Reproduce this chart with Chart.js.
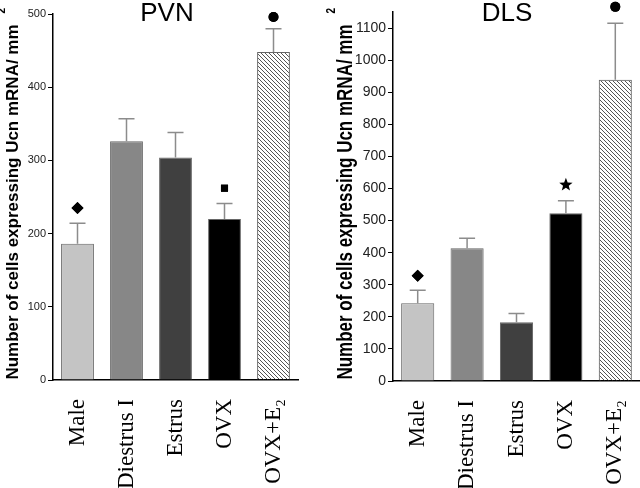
<!DOCTYPE html>
<html>
<head>
<meta charset="utf-8">
<script src="https://cdn.jsdelivr.net/npm/chart.js@4"></script>
<style>
  body { margin: 0; background: #fff; }
  .wrap { position: absolute; top: 0; width: 320px; height: 488px; }
</style>
</head>
<body>
<div class="wrap" style="left:0"><canvas id="pvn" width="320" height="488"></canvas></div>
<div class="wrap" style="left:320px"><canvas id="dls" width="320" height="488"></canvas></div>
<script>
const categories = ['Male', 'Diestrus I', 'Estrus', 'OVX', 'OVX+E\u2082'];

// PVN panel
const pvnMeans = [186, 326, 304, 220, 448];
const pvnErrTop = [214, 357, 338, 241, 480];
const pvnMarks = [235, null, null, 262, 496];
const pvnMarkStyles = ['rectRot', null, null, 'rect', 'circle'];

// DLS panel
const dlsMeans = [242, 414, 183, 523, 939];
const dlsErrTop = [283, 445, 210, 562, 1115];
const dlsMarks = [328, null, null, 613, 1166];
const dlsMarkStyles = ['rectRot', null, null, 'star', 'circle'];

const yTitle = 'Number of cells expressing Ucn mRNA/ mm';

function hatch() {
    const c = document.createElement('canvas');
    c.width = 4; c.height = 4;
    const g = c.getContext('2d');
    g.strokeStyle = '#555';
    g.lineWidth = 1;
    g.beginPath();
    g.moveTo(0, 0); g.lineTo(4, 4);
    g.moveTo(-1, 3); g.lineTo(1, 5);
    g.moveTo(3, -1); g.lineTo(5, 1);
    g.stroke();
    return g.createPattern(c, 'repeat');
}

function drawStar(ctx, x, y) {
    ctx.beginPath();
    for (let i = 0; i < 10; i++) {
        const r = i % 2 === 0 ? 7 : 3;
        const a = -Math.PI / 2 + i * Math.PI / 5;
        ctx.lineTo(x + r * Math.cos(a), y + 0.5 + r * Math.sin(a));
    }
    ctx.closePath();
    ctx.fill();
}

const barColors = ['#c4c4c4', '#878787', '#404040', '#000000', hatch()];
const markRadius = { rectRot: 6, rect: 5, circle: 5 };

// error bars (upper only), significance marks, rotated y title, panel title
const decorations = {
    id: 'decorations',
    afterDatasetsDraw(chart, args, opts) {
        const ctx = chart.ctx;
        const y = chart.scales.y;
        const meta = chart.getDatasetMeta(0);
        ctx.save();
        ctx.strokeStyle = '#8c8c8c';
        ctx.lineWidth = 1.5;
        meta.data.forEach((bar, i) => {
            const top = y.getPixelForValue(opts.errTop[i]);
            ctx.beginPath();
            ctx.moveTo(bar.x, bar.y);
            ctx.lineTo(bar.x, top);
            ctx.moveTo(bar.x - 8, top);
            ctx.lineTo(bar.x + 8, top);
            ctx.stroke();
        });
        ctx.fillStyle = '#000';
        meta.data.forEach((bar, i) => {
            const v = opts.marks[i];
            const style = opts.styles[i];
            if (v == null || !style) return;
            const py = y.getPixelForValue(v);
            if (style === 'star') {
                drawStar(ctx, bar.x, py);
            } else {
                Chart.helpers.drawPoint(ctx, {
                    pointStyle: style, radius: markRadius[style], borderWidth: 0, rotation: 0
                }, bar.x, py);
                ctx.fill();
            }
        });
        ctx.restore();
    },
    afterDraw(chart, args, opts) {
        const ctx = chart.ctx;
        ctx.save();
        ctx.fillStyle = '#000';
        ctx.font = '26px "Liberation Sans", Arial, sans-serif';
        ctx.textAlign = 'center';
        ctx.textBaseline = 'alphabetic';
        ctx.fillText(opts.title, opts.titleX, 21);

        ctx.translate(opts.yTitleX, 202);
        ctx.rotate(-Math.PI / 2);
        ctx.scale(1, opts.stretch);
        ctx.font = 'bold 17px "Liberation Sans", Arial, sans-serif';
        const w = ctx.measureText(yTitle).width;
        ctx.fillText(yTitle, 0, 0);
        ctx.font = 'bold 10px "Liberation Sans", Arial, sans-serif';
        ctx.textAlign = 'left';
        ctx.fillText('2', w / 2 + 11, -13);
        ctx.restore();
    }
};

function makeChart(id, o) {
    return new Chart(document.getElementById(id), {
        type: 'bar',
        data: {
            labels: categories,
            datasets: [{
                data: o.means,
                backgroundColor: barColors,
                borderColor: '#666',
                borderWidth: 1,
                barPercentage: 0.67,
                categoryPercentage: 1
            }]
        },
        options: {
            responsive: false,
            animation: false,
            layout: { padding: { top: o.padTop, right: o.padRight, left: 0, bottom: 0 } },
            plugins: {
                legend: { display: false },
                tooltip: { enabled: false },
                decorations: {
                    errTop: o.errTop, marks: o.marks, styles: o.styles,
                    title: o.title, titleX: o.titleX, yTitleX: o.yTitleX, stretch: o.stretch
                }
            },
            scales: {
                x: {
                    offset: true,
                    grid: { display: false },
                    border: { display: true, color: '#000', width: 1.5 },
                    ticks: {
                        autoSkip: false,
                        minRotation: 90,
                        maxRotation: 90,
                        padding: 11,
                        color: '#000',
                        font: { family: '"Liberation Serif", "Times New Roman", serif', size: 23 }
                    },
                    afterFit: s => { s.height = o.xHeight; s.paddingLeft = 0; s.paddingRight = 0; }
                },
                y: {
                    min: 0,
                    max: o.max,
                    grid: { drawOnChartArea: false, tickLength: 5, color: '#000', tickWidth: 1 },
                    border: { display: true, color: '#000', width: 1.5 },
                    ticks: {
                        stepSize: 100,
                        includeBounds: false,
                        padding: 2,
                        color: '#222',
                        font: { family: '"Liberation Sans", Arial, sans-serif', size: o.tickSize },
                        callback: v => String(v)
                    },
                    afterBuildTicks: s => { s.ticks = s.ticks.filter(t => t.value % 100 === 0); },
                    afterFit: s => { s.width = o.yWidth; s.paddingTop = 0; s.paddingBottom = 0; }
                }
            }
        },
        plugins: [decorations]
    });
}

makeChart('pvn', {
    means: pvnMeans, errTop: pvnErrTop, marks: pvnMarks, styles: pvnMarkStyles,
    max: 500, padTop: 14, padRight: 22, xHeight: 108, yWidth: 53,
    tickSize: 11, title: 'PVN', titleX: 167, yTitleX: 18, stretch: 1
});

makeChart('dls', {
    means: dlsMeans, errTop: dlsErrTop, marks: dlsMarks, styles: dlsMarkStyles,
    max: 1150, padTop: 12, padRight: 0, xHeight: 107, yWidth: 73,
    tickSize: 14, title: 'DLS', titleX: 187, yTitleX: 32, stretch: 1.3
});
</script>
</body>
</html>
